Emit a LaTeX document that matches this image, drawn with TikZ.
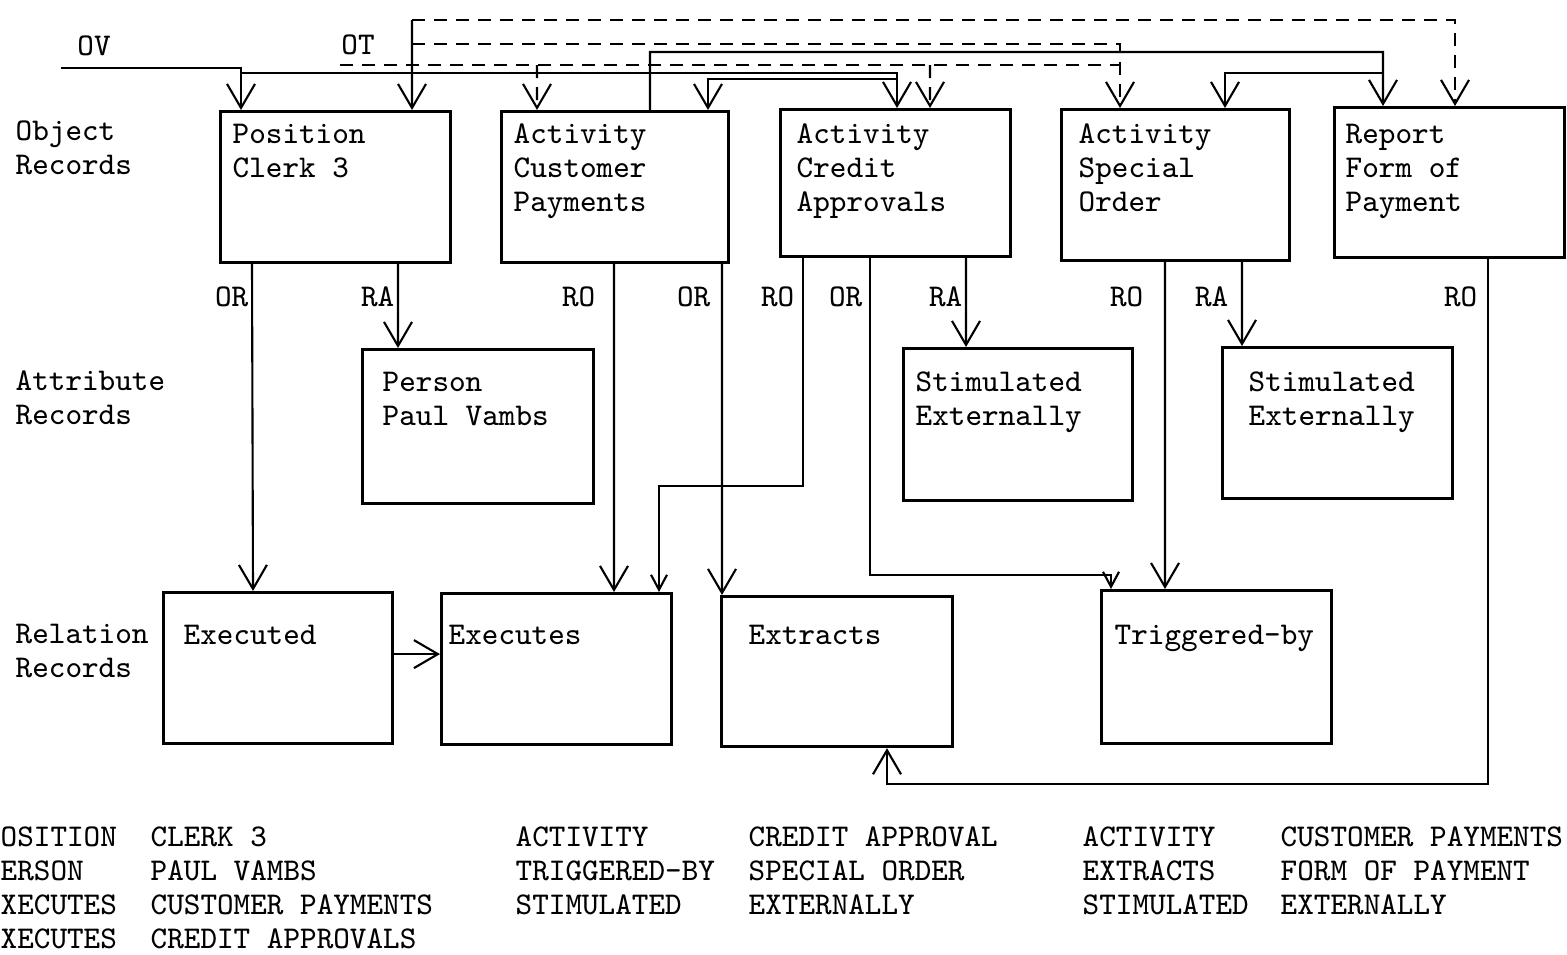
\documentclass[tikz,border=0pt]{standalone}
\usetikzlibrary{arrows.meta}
\begin{document}
\begin{tikzpicture}[x=0.1mm, y=-0.1mm,
        rec/.style={draw, line width=0.9pt, anchor=north west, inner sep=0pt},
        txt/.style={anchor=north west, align=left, inner sep=0pt, font=\ttfamily\fontsize{9pt}{9.7pt}\selectfont},
        lbl/.style={inner sep=0pt, font=\ttfamily\fontsize{9pt}{9.7pt}\selectfont},
        con/.style={line width=0.6pt},
        arr/.style={con, -{Straight Barb[length=2.4mm, width=2.8mm]}},
        sarr/.style={con, -{Straight Barb[length=1.5mm, width=1.6mm]}},
        dsh/.style={dash pattern=on 1.3mm off 0.9mm}]
        \useasboundingbox (0,0) rectangle (1567,954);
        % row titles
        \node[txt] (objrow) at (15,120) {Object\\Records};
        \node[txt] (attrow) at (15,370) {Attribute\\Records};
        \node[txt] (relrow) at (15,623) {Relation\\Records};
        % object records
        \node[rec, minimum width=23mm, minimum height=15.1mm, label={[txt, xshift=1.3mm, yshift=-1.3mm]north west:{Position\\Clerk 3}}] (posclerk) at (219,110) {};
        \node[rec, minimum width=22.7mm, minimum height=15.1mm, label={[txt, xshift=1.3mm, yshift=-1.3mm]north west:{Activity\\Customer\\Payments}}] (custpay) at (500,110) {};
        \node[rec, minimum width=23mm, minimum height=14.7mm, label={[txt, xshift=1.7mm, yshift=-1.5mm]north west:{Activity\\Credit\\Approvals}}] (creditapp) at (779,108) {};
        \node[rec, minimum width=22.8mm, minimum height=15.1mm, label={[txt, xshift=1.8mm, yshift=-1.5mm]north west:{Activity\\Special\\Order}}] (specorder) at (1060,108) {};
        \node[rec, minimum width=23mm, minimum height=15mm, label={[txt, xshift=1.2mm, yshift=-1.7mm]north west:{Report\\Form of\\Payment}}] (report) at (1333,106) {};
        % attribute records
        \node[rec, minimum width=23.1mm, minimum height=15.4mm, label={[txt, xshift=2.1mm, yshift=-2.3mm]north west:{Person\\Paul Vambs}}] (person) at (361,348) {};
        \node[rec, minimum width=22.9mm, minimum height=15.2mm, label={[txt, xshift=1.3mm, yshift=-2.4mm]north west:{Stimulated\\Externally}}] (stimcredit) at (902,347) {};
        \node[rec, minimum width=23mm, minimum height=15.1mm, label={[txt, xshift=2.7mm, yshift=-2.5mm]north west:{Stimulated\\Externally}}] (stimspecial) at (1221,346) {};
        % relation records
        \node[rec, minimum width=22.9mm, minimum height=15.1mm, label={[txt, xshift=2.1mm, yshift=-3.3mm]north west:{Executed}}] (executed) at (162,591) {};
        \node[rec, minimum width=23mm, minimum height=15.1mm, label={[txt, xshift=0.8mm, yshift=-3.2mm]north west:{Executes}}] (executes) at (440,592) {};
        \node[rec, minimum width=23.1mm, minimum height=15mm, label={[txt, xshift=2.8mm, yshift=-2.9mm]north west:{Extracts}}] (extracts) at (720,595) {};
        \node[rec, minimum width=23mm, minimum height=15.3mm, label={[txt, xshift=1.4mm, yshift=-3.5mm]north west:{Triggered-by}}] (triggered) at (1100,589) {};
        % entry pointers
        \node[lbl] (ovlbl) at (94,46) {OV};
        \node[lbl] (otlbl) at (358,45) {OT};
        \coordinate (ovstart) at (61,68);
        \coordinate (ovjoin) at (241,73);
        \coordinate (ovsplit) at (897,79);
        \coordinate (rptbend) at (1383,52);
        \coordinate (spcsplit) at (1383,73);
        \coordinate (ottop) at (412,20);
        \coordinate (otmid) at (412,44);
        \coordinate (dthree) at (340,65);
        \coordinate (dthreeend) at (1120,65);
        \coordinate (cpdash) at (537,65);
        \coordinate (cadash) at (930,65);
        % solid chains
        \draw[arr] (ovstart) -| ([xshift=2.2mm]posclerk.north west);
        \draw[arr] (ovjoin) -| ([xshift=11.8mm]creditapp.north west);
        \draw[arr] (ovsplit) -| ([xshift=20.8mm]custpay.north west);
        \draw[arr] ([xshift=15mm]custpay.north west) |- (rptbend) -- ([xshift=5mm]report.north west);
        \draw[arr] (spcsplit) -| ([xshift=16.5mm]specorder.north west);
        \draw[arr] (ottop) -- ([xshift=19.3mm]posclerk.north west);
        % dashed chains
        \draw[arr, dsh] (ottop) -| ([xshift=12.2mm]report.north west);
        \draw[arr, dsh] (otmid) -| ([xshift=6mm]specorder.north west);
        \draw[con, dsh] (dthree) -- (dthreeend);
        \draw[arr, dsh] (cpdash) -- ([xshift=3.7mm]custpay.north west);
        \draw[arr, dsh] (cadash) -- ([xshift=15.1mm]creditapp.north west);
        % record links
        \draw[arr] ([xshift=3.3mm]posclerk.south west) -- ([xshift=9.1mm]executed.north west);
        \draw[arr] ([xshift=17.9mm]posclerk.south west) -- ([xshift=3.7mm]person.north west);
        \draw[arr] ([xshift=11.4mm]custpay.south west) -- ([xshift=17.4mm]executes.north west);
        \draw[arr] ([xshift=22.2mm]custpay.south west) -- ([xshift=0.2mm]extracts.north west);
        \draw[sarr] ([xshift=2.4mm]creditapp.south west) -- ++(0,228) -| ([xshift=21.9mm]executes.north west);
        \draw[sarr] ([xshift=9.1mm]creditapp.south west) -- ++(0,317) -| ([xshift=1.1mm]triggered.north west);
        \draw[arr] ([xshift=18.7mm]creditapp.south west) -- ([xshift=6.4mm]stimcredit.north west);
        \draw[arr] ([xshift=10.5mm]specorder.south west) -- ([xshift=6.5mm]triggered.north west);
        \draw[arr] ([xshift=18.2mm]specorder.south west) -- ([xshift=2.1mm]stimspecial.north west);
        \draw[arr] ([xshift=15.5mm]report.south west) -- ++(0,525) -| ([xshift=16.7mm]extracts.south west);
        \draw[arr] ([yshift=1.4mm]executed.east) -- ([yshift=1.4mm]executed.east -| executes.west);
        % link names
        \node[lbl, anchor=east] (orpos) at (249,297) {OR};
        \node[lbl, anchor=east] (rapos) at (395,297) {RA};
        \node[lbl, anchor=east] (rocp) at (596,297) {RO};
        \node[lbl, anchor=east] (orcp) at (711,297) {OR};
        \node[lbl, anchor=east] (roca) at (795,297) {RO};
        \node[lbl, anchor=east] (orca) at (863,297) {OR};
        \node[lbl, anchor=east] (raca) at (963,297) {RA};
        \node[lbl, anchor=east] (rosp) at (1144,297) {RO};
        \node[lbl, anchor=east] (rasp) at (1229,297) {RA};
        \node[lbl, anchor=east] (rorp) at (1478,297) {RO};
        % record listing
        \node[txt] (listone) at (0,826) {OSITION\\ERSON\\XECUTES\\XECUTES};
        \node[txt] (listtwo) at (150,826) {CLERK 3\\PAUL VAMBS\\CUSTOMER PAYMENTS\\CREDIT APPROVALS};
        \node[txt] (listthree) at (515,826) {ACTIVITY\\TRIGGERED-BY\\STIMULATED};
        \node[txt] (listfour) at (748,826) {CREDIT APPROVAL\\SPECIAL ORDER\\EXTERNALLY};
        \node[txt] (listfive) at (1082,826) {ACTIVITY\\EXTRACTS\\STIMULATED};
        \node[txt] (listsix) at (1280,826) {CUSTOMER PAYMENTS\\FORM OF PAYMENT\\EXTERNALLY};
    \end{tikzpicture}
\end{document}
